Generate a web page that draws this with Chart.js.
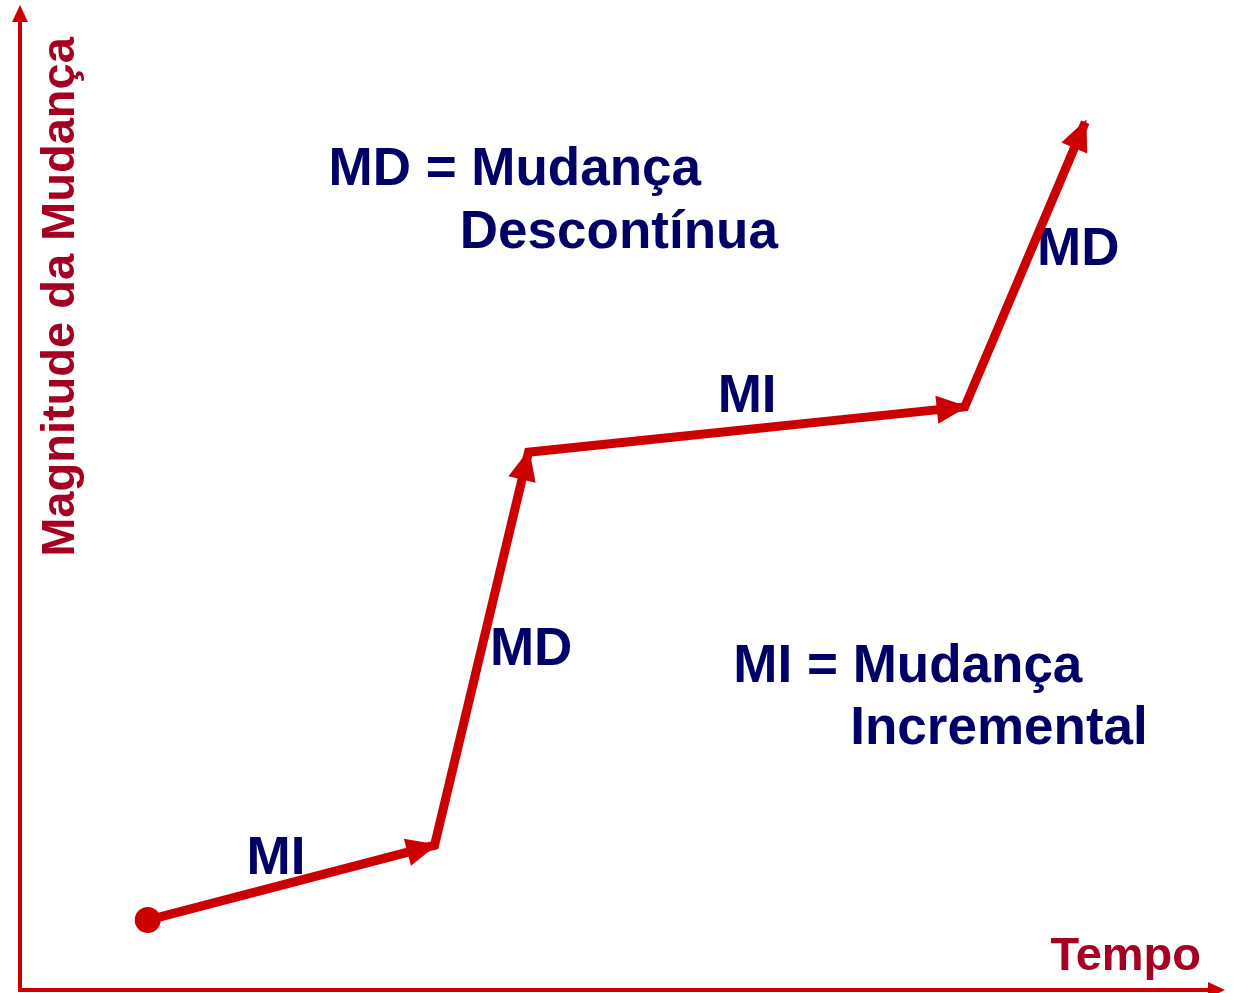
<!DOCTYPE html>
<html>
<head>
<meta charset="utf-8">
<script src="https://cdn.jsdelivr.net/npm/chart.js@4"></script>
<style>
  body { margin: 0; background: #fff; }
</style>
</head>
<body>
<canvas id="chart" width="1233" height="993"></canvas>
<script>
// path of the change (x = time, y = magnitude), 0..100 on both axes
const tempo = [10.6, 34.4, 42.2, 78.4, 88.4];
const magnitude = [7.1, 14.7, 54.6, 59.2, 88.1];

// labels placed on the plot
const labelTexts = ['MD = Mudança', 'Descontínua', 'MI', 'MD', 'MI', 'MD', 'MI = Mudança', 'Incremental'];
const labelX = [25.6, 36.5, 18.8, 39.0, 57.9, 84.4, 59.2, 68.9];
const labelY = [81.7, 75.3, 11.8, 33.0, 58.7, 73.6, 31.3, 25.0];

const axisTitleX = 'Tempo';
const axisTitleY = 'Magnitude da Mudança';

const RED = '#CC0000';
const NAVY = '#000066';
const TITLE_RED = '#A50021';

function arrowHead(ctx, x0, y0, x1, y1, len, half, extra) {
  const a = Math.atan2(y1 - y0, x1 - x0);
  const tx = x1 + Math.cos(a) * extra, ty = y1 + Math.sin(a) * extra;
  ctx.beginPath();
  ctx.moveTo(tx, ty);
  ctx.lineTo(tx - Math.cos(a) * len + Math.sin(a) * half, ty - Math.sin(a) * len - Math.cos(a) * half);
  ctx.lineTo(tx - Math.cos(a) * len - Math.sin(a) * half, ty - Math.sin(a) * len + Math.cos(a) * half);
  ctx.closePath();
  ctx.fill();
}

const decorations = {
  id: 'decorations',
  beforeDatasetsDraw(chart) {
    const { ctx, chartArea: ca, scales } = chart;
    ctx.save();
    // axes with arrows
    ctx.strokeStyle = RED;
    ctx.fillStyle = RED;
    ctx.lineWidth = 4;
    ctx.beginPath();
    ctx.moveTo(ca.left, ca.top + 10);
    ctx.lineTo(ca.left, ca.bottom);
    ctx.lineTo(ca.right - 10, ca.bottom);
    ctx.stroke();
    arrowHead(ctx, ca.left, ca.bottom, ca.left, ca.top, 17, 8, 0);
    arrowHead(ctx, ca.left, ca.bottom, ca.right, ca.bottom, 17, 8, 0);

    // axis titles
    ctx.fillStyle = TITLE_RED;
    ctx.font = 'bold 47px "Liberation Sans", Arial, sans-serif';
    ctx.textAlign = 'right';
    ctx.textBaseline = 'alphabetic';
    ctx.fillText(axisTitleX, ca.right - 24, ca.bottom - 20);
    ctx.translate(ca.left + 54, ca.top + 292);
    ctx.rotate(-Math.PI / 2);
    ctx.textAlign = 'center';
    ctx.fillText(axisTitleY, 0, 0);
    ctx.restore();

    // labels
    ctx.save();
    ctx.fillStyle = NAVY;
    ctx.font = 'bold 53px "Liberation Sans", Arial, sans-serif';
    ctx.textAlign = 'left';
    ctx.textBaseline = 'alphabetic';
    labelTexts.forEach((t, i) => {
      ctx.fillText(t, scales.x.getPixelForValue(labelX[i]), scales.y.getPixelForValue(labelY[i]));
    });
    ctx.restore();
  },
  afterDatasetsDraw(chart) {
    const { ctx } = chart;
    const pts = chart.getDatasetMeta(0).data;
    ctx.save();
    ctx.fillStyle = RED;
    for (let i = 1; i < pts.length; i++) {
      arrowHead(ctx, pts[i - 1].x, pts[i - 1].y, pts[i].x, pts[i].y, 31, 14, 3);
    }
    ctx.restore();
  }
};

new Chart(document.getElementById('chart'), {
  type: 'scatter',
  data: {
    datasets: [{
      data: tempo.map((t, i) => ({ x: t, y: magnitude[i] })),
      showLine: true,
      borderColor: RED,
      borderWidth: 9,
      borderJoinStyle: 'miter',
      backgroundColor: RED,
      pointRadius: tempo.map((t, i) => i === 0 ? 13 : 0),
      pointHoverRadius: 0,
      pointBorderWidth: 0,
      clip: false
    }]
  },
  options: {
    responsive: false,
    animation: false,
    layout: { autoPadding: false, padding: { left: 20, top: 5, right: 8, bottom: 3 } },
    plugins: {
      legend: { display: false },
      tooltip: { enabled: false }
    },
    scales: {
      x: { type: 'linear', min: 0, max: 100, display: false },
      y: { type: 'linear', min: 0, max: 100, display: false }
    }
  },
  plugins: [decorations]
});
</script>
</body>
</html>
